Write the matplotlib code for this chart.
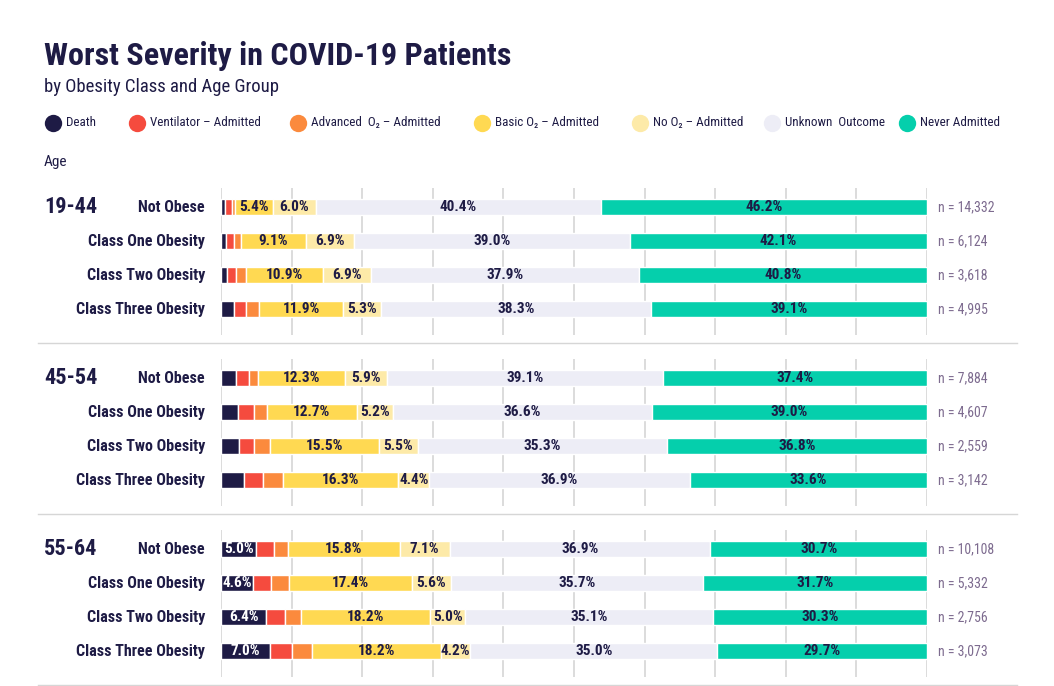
import matplotlib.pyplot as plt
import matplotlib.transforms as mtransforms
from matplotlib.lines import Line2D

# data
age_groups = ['19-44', '45-54', '55-64']
obesity_classes = ['Not Obese', 'Class One Obesity', 'Class Two Obesity', 'Class Three Obesity']
outcomes = ['Death', 'Ventilator – Admitted', 'Advanced  O₂ – Admitted', 'Basic O₂ – Admitted',
            'No O₂ – Admitted', 'Unknown  Outcome', 'Never Admitted']

# one value per row, rows ordered age group by age group
death = [0.5, 0.7, 0.8, 1.8, 2.1, 2.4, 2.5, 3.2, 5.0, 4.6, 6.4, 7.0]
ventilator = [1.0, 1.2, 1.3, 1.8, 1.8, 2.3, 2.2, 2.7, 2.5, 2.5, 2.6, 3.1]
advanced_o2 = [0.5, 1.0, 1.4, 1.8, 1.4, 1.8, 2.2, 2.9, 2.0, 2.5, 2.4, 2.8]
basic_o2 = [5.4, 9.1, 10.9, 11.9, 12.3, 12.7, 15.5, 16.3, 15.8, 17.4, 18.2, 18.2]
no_o2 = [6.0, 6.9, 6.9, 5.3, 5.9, 5.2, 5.5, 4.4, 7.1, 5.6, 5.0, 4.2]
unknown = [40.4, 39.0, 37.9, 38.3, 39.1, 36.6, 35.3, 36.9, 36.9, 35.7, 35.1, 35.0]
never_admitted = [46.2, 42.1, 40.8, 39.1, 37.4, 39.0, 36.8, 33.6, 30.7, 31.7, 30.3, 29.7]
n_counts = ['14,332', '6,124', '3,618', '4,995', '7,884', '4,607', '2,559', '3,142',
            '10,108', '5,332', '2,756', '3,073']

series = [death, ventilator, advanced_o2, basic_o2, no_o2, unknown, never_admitted]
colors = ['#1e1b45', '#f54b3e', '#fb8a3d', '#ffd952', '#fdeaa8', '#ededf6', '#05cfac']
label_colors = ['white', '#1e1b45', '#1e1b45', '#1e1b45', '#1e1b45', '#1e1b45', '#1e1b45']

NAVY = '#1e1b45'
FONT = ['Roboto Condensed', 'Roboto', 'DejaVu Sans']
plt.rcParams['font.family'] = FONT

W, H = 1054, 686
fig = plt.figure(figsize=(W / 100, H / 100), dpi=100)


def fx(px):
    return px / W


def fy(py):
    return 1 - py / H


# titles
fig.text(fx(44), fy(56), 'Worst Severity in COVID-19 Patients', fontsize=23, fontweight='bold',
         color=NAVY, va='center', ha='left')
fig.text(fx(44), fy(87), 'by Obesity Class and Age Group', fontsize=13.5, color=NAVY,
         va='center', ha='left')
fig.text(fx(44), fy(162), 'Age', fontsize=11, color=NAVY, va='center', ha='left')

# legend
leg_x = [53, 137, 298, 482, 640, 772, 907]
for name, c, x in zip(outcomes, colors, leg_x):
    fig.add_artist(Line2D([fx(x)], [fy(123)], marker='o', markersize=12.5, color=c,
                          markeredgewidth=0, transform=fig.transFigure))
    fig.text(fx(x + 13), fy(123), name, fontsize=9.4, color=NAVY, va='center', ha='left')

# one axes per age group
group_tops = [188, 359, 530]
for g, age in enumerate(age_groups):
    top = group_tops[g]
    ax = fig.add_axes([fx(221), fy(top + 147), fx(927) - fx(221), 147 / H])
    ax.set_xlim(0, 100)
    ax.set_ylim(3.76, -0.56)
    ax.set_xticks(range(0, 101, 10))
    ax.xaxis.grid(True, color='#d6d6d6', linewidth=1.2)
    ax.set_axisbelow(True)
    ax.tick_params(length=0, labelbottom=False, labelleft=False)
    for s in ax.spines.values():
        s.set_visible(False)

    trans = mtransforms.blended_transform_factory(fig.transFigure, ax.transData)
    for r, cls in enumerate(obesity_classes):
        i = g * 4 + r
        left = 0
        for vals, c, lc in zip(series, colors, label_colors):
            v = vals[i]
            ax.barh(r, v, left=left, height=0.47, color=c, edgecolor='white', linewidth=1)
            if v >= 4:
                ax.text(left + v / 2, r, f'{v:.1f}%', ha='center', va='center',
                        fontsize=11, fontweight='bold', color=lc)
            left += v
        ax.text(fx(205), r, cls, transform=trans, ha='right', va='center',
                fontsize=11.5, fontweight='bold', color=NAVY)
        ax.text(fx(938), r, f'n = {n_counts[i]}', transform=trans, ha='left', va='center',
                fontsize=10, color='#7d6b8f')
    ax.text(fx(44), 0, age, transform=trans, ha='left', va='center',
            fontsize=16, fontweight='bold', color=NAVY)

    # separator under the group
    sep_y = top + 155
    fig.add_artist(Line2D([fx(38), fx(1017)], [fy(sep_y), fy(sep_y)], color='#d6d6d6',
                          linewidth=1, transform=fig.transFigure))

fig.savefig('out.png', dpi=100, facecolor='white')
